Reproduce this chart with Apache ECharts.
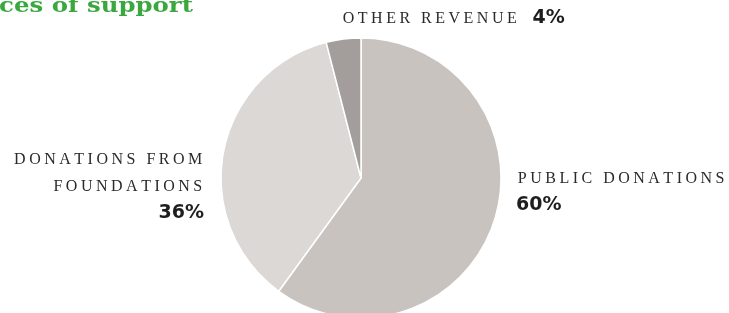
<!DOCTYPE html>
<html>
<head>
<meta charset="utf-8">
<script src="https://cdn.jsdelivr.net/npm/echarts@6/dist/echarts.min.js"></script>
<style>
  html, body { margin: 0; padding: 0; background: #fff; }
  #chart { width: 729px; height: 313px; }
</style>
</head>
<body>
<div id="chart"></div>
<script>
const titleText = 'Sources of support'
const categories = ['Public donations', 'Donations from foundations', 'Other revenue']
const labelLines = [['PUBLIC DONATIONS'], ['DONATIONS FROM', 'FOUNDATIONS'], ['OTHER REVENUE']]
const shares = [60, 36, 4]
const colors = ['#c9c3c0', '#dbd8d6', '#a39e9b']

// letter-spaced caps: one rich token per character, padding gives the tracking
const spread = s => s.split('').map(ch => '{cap|' + ch + '}').join('')

const labelPos = [
  {x: 516, y: 165, align: 'left'},
  {x: 204, y: 146, align: 'right'},
  {x: 341, y: 5, align: 'left'}
]

const chart = echarts.init(document.getElementById('chart'))

chart.setOption({
  animation: false,
  graphic: [{
    type: 'text',
    x: 193,
    y: 7,
    scaleX: 1.22,
    style: {
      text: titleText,
      align: 'right',
      verticalAlign: 'middle',
      fontFamily: 'DejaVu Serif',
      fontWeight: 'bold',
      fontSize: 20,
      fill: '#3aa83f'
    }
  }],
  series: [{
    type: 'pie',
    center: [361, 178],
    radius: [0, 140],
    startAngle: 90,
    clockwise: true,
    itemStyle: {borderColor: '#fff', borderWidth: 1.5},
    labelLine: {show: false},
    label: {
      show: true,
      position: 'outside',
      overflow: 'none',
      formatter: function (p) {
        const lines = labelLines[p.dataIndex].map(spread)
        if (p.dataIndex === 2) {
          return lines[0] + '{gap|}{pct|' + p.value + '%}'
        }
        return lines.join('\n') + '\n{pct|' + p.value + '%}'
      },
      rich: {
        cap: {
          fontFamily: 'Liberation Serif',
          fontSize: 16,
          color: '#2a2a2a',
          lineHeight: 27,
          padding: [0, 1.75, 0, 1.75]
        },
        pct: {
          fontFamily: 'DejaVu Sans',
          fontWeight: 'bold',
          fontSize: 19,
          color: '#1e1e1e',
          lineHeight: 27
        },
        gap: {width: 14}
      }
    },
    labelLayout: function (params) {
      const p = labelPos[params.dataIndex]
      return {x: p.x, y: p.y, align: p.align, verticalAlign: 'top'}
    },
    data: categories.map((name, i) => ({
      name,
      value: shares[i],
      itemStyle: {color: colors[i]},
      label: {align: labelPos[i].align}
    }))
  }]
})
</script>
</body>
</html>
